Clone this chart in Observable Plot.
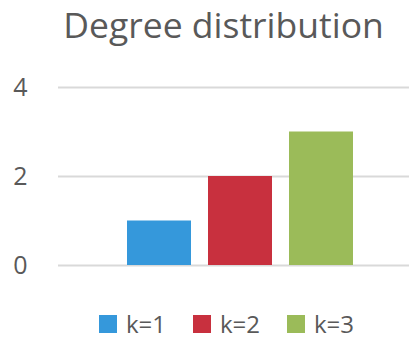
<!DOCTYPE html>
<html>
<head>
<meta charset="utf-8">
<script src="https://cdn.jsdelivr.net/npm/d3@7"></script>
<script src="https://cdn.jsdelivr.net/npm/@observablehq/plot@0.6"></script>
<style>
  html, body { margin: 0; padding: 0; background: #fff; }
  #chart { position: relative; width: 409px; height: 341px; overflow: hidden; font-family: "Open Sans", sans-serif; color: #595959; font-variant-ligatures: none; }
  #title { position: absolute; left: 0; top: 2px; width: 409px; padding-left: 38px; box-sizing: border-box; text-align: center; font-size: 35.5px; line-height: 44px; color: #595959; white-space: nowrap; }
  #plot { position: absolute; left: 0; top: 60px; }
  #legend { position: absolute; left: 0; top: 313px; width: 409px; height: 24px; }
  .item { position: absolute; top: 0; display: flex; align-items: flex-start; font-size: 24px; line-height: 22px; height: 22px; }
  .sw { width: 18px; height: 18px; margin-right: 9px; margin-top: 2px; }
</style>
</head>
<body>
<div id="chart">
  <div id="title">Degree distribution</div>
  <div id="plot"></div>
  <div id="legend"></div>
</div>
<script>
const categories = ["k=1", "k=2", "k=3"];
const values = [1, 2, 3];
const colors = ["#3598db", "#c8303e", "#9bbb59"];
const yTicks = [0, 2, 4];

const data = categories.map((k, i) => ({k, v: values[i]}));

const plot = Plot.plot({
  width: 409,
  height: 230,
  marginLeft: 58,
  marginRight: 0,
  marginTop: 27,
  marginBottom: 25,
  style: {fontFamily: "'Open Sans', sans-serif", fontSize: "25px", color: "#595959", background: "transparent"},
  x: {domain: categories, range: [118.5, 361.5], paddingInner: 0.21, paddingOuter: 0.105, axis: null},
  y: {domain: [0, 4], ticks: yTicks, tickSize: 0, tickPadding: 31, label: null, tickFormat: d => String(d)},
  color: {domain: categories, range: colors},
  marks: [
    Plot.ruleY(yTicks, {stroke: "#d9d9d9", strokeWidth: 2}),
    Plot.barY(data, {x: "k", y: "v", fill: "k"})
  ]
});
document.getElementById("plot").appendChild(plot);

const legend = document.getElementById("legend");
const lefts = [99, 193, 287];
categories.forEach((k, i) => {
  const it = document.createElement("div");
  it.className = "item";
  it.style.left = lefts[i] + "px";
  const sw = document.createElement("div");
  sw.className = "sw";
  sw.style.background = colors[i];
  const t = document.createElement("span");
  t.textContent = k;
  it.appendChild(sw);
  it.appendChild(t);
  legend.appendChild(it);
});
</script>
</body>
</html>
